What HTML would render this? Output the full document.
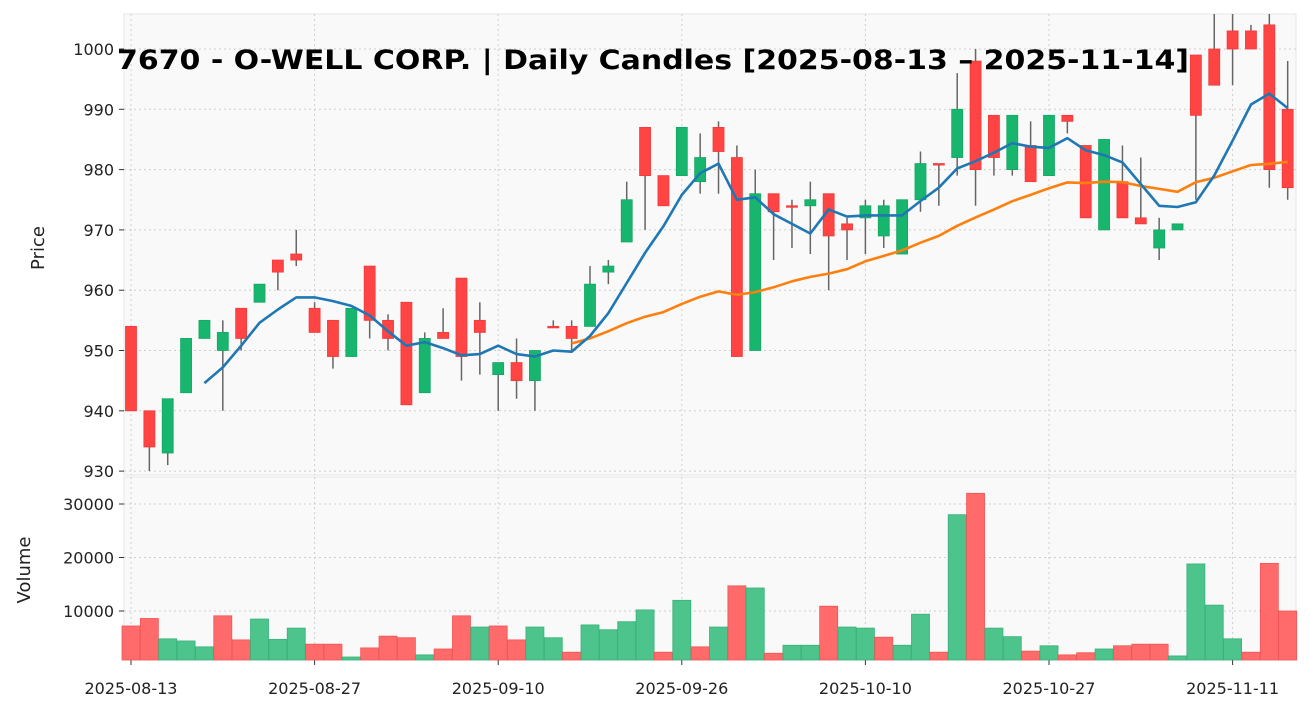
<!DOCTYPE html>
<html><head><meta charset="utf-8"><style>
html,body{margin:0;padding:0;background:#fff;}
svg{display:block;font-family:"DejaVu Sans","Liberation Sans",sans-serif;}
</style></head><body>
<svg id="s" width="1310" height="711" xmlns="http://www.w3.org/2000/svg"></svg>
<script>
const C=[[954,940,954,940],[940,934,940,930],[933,942,942,931],[943,952,952,943],[952,955,955,952],[950,953,955,940],[957,952,957,950],[958,961,961,958],[965,963,965,960],[966,965,970,964],[957,953,958,953],[955,949,955,947],[949,957,957,949],[964,955,964,952],[955,952,956,950],[958,941,958,941],[943,952,953,943],[953,952,957,952],[962,949,962,945],[955,953,958,946],[946,948,948,940],[948,945,952,942],[945,950,950,940],[954,954,955,954],[954,952,955,950],[954,961,964,954],[963,964,965,961],[968,975,978,968],[987,979,987,970],[979,974,979,974],[979,987,987,979],[978,982,986,976],[987,983,988,976],[982,949,984,949],[950,976,980,950],[976,973,976,965],[974,974,975,967],[974,975,978,966],[976,969,976,960],[971,970,972,965],[972,974,975,966],[969,974,975,967],[966,975,975,966],[975,981,983,973],[981,981,981,974],[982,990,996,979],[998,980,1000,974],[989,982,989,979],[980,989,989,979],[984,978,988,978],[979,989,989,979],[989,988,989,986],[984,972,984,972],[970,985,985,970],[978,972,984,972],[972,971,982,971],[967,970,972,965],[970,971,971,970],[999,989,999,975],[1000,994,1006,994],[1003,1000,1006,994],[1003,1000,1004,1000],[1004,980,1006,977],[990,977,998,975]];
const V=[[7200,0],[8600,0],[4800,1],[4400,1],[3300,1],[9100,0],[4600,0],[8500,1],[4700,1],[6800,1],[3800,0],[3800,0],[1400,1],[3100,0],[5300,0],[5000,0],[1800,1],[2900,0],[9100,0],[7000,1],[7200,0],[4600,0],[7000,1],[5000,1],[2300,0],[7400,1],[6500,1],[8000,1],[10200,1],[2300,0],[12000,1],[3300,0],[7000,1],[14700,0],[14300,1],[2100,0],[3600,1],[3600,1],[10900,0],[7000,1],[6800,1],[5100,0],[3600,1],[9400,1],[2300,0],[28000,1],[32000,0],[6800,1],[5200,1],[2500,0],[3500,1],[1800,0],[2200,0],[2900,1],[3500,0],[3800,0],[3800,0],[1600,1],[18800,1],[11100,1],[4800,1],[2300,0],[18900,0],[10000,0]];
const X=i=>131+i*18.36, PY=p=>49+(1000-p)*6.03, VY=v=>664.5-v*107/20000;
let h='<defs><clipPath id="cp"><rect x="124" y="14" width="1172" height="461"/></clipPath></defs>';
h+='<rect x="124" y="14" width="1172" height="461" fill="#f9f9f9" stroke="#e6e6e6"/>';
h+='<rect x="124" y="477" width="1172" height="183" fill="#f9f9f9" stroke="#e6e6e6"/>';
const dates=[[0,'2025-08-13'],[10,'2025-08-27'],[20,'2025-09-10'],[30,'2025-09-26'],[40,'2025-10-10'],[50,'2025-10-27'],[60,'2025-11-11']];
for(const [i,t] of dates){const x=X(i);
 h+=`<line x1="${x}" y1="14" x2="${x}" y2="475" stroke="#cfcfcf" stroke-dasharray="2,3"/><line x1="${x}" y1="477" x2="${x}" y2="660" stroke="#cfcfcf" stroke-dasharray="2,3"/>`;
 h+=`<line x1="${x}" y1="660" x2="${x}" y2="665" stroke="#333"/><text x="${x}" y="694" font-size="16" text-anchor="middle" fill="#222">${t}</text>`;}
for(let p=930;p<=1000;p+=10){const y=PY(p);
 h+=`<line x1="124" y1="${y}" x2="1296" y2="${y}" stroke="#cfcfcf" stroke-dasharray="2,3"/><line x1="119" y1="${y}" x2="124" y2="${y}" stroke="#333"/><text x="114" y="${y+6}" font-size="16" text-anchor="end" fill="#222">${p}</text>`;}
for(const v of [10000,20000,30000]){const y=VY(v);
 h+=`<line x1="124" y1="${y}" x2="1296" y2="${y}" stroke="#cfcfcf" stroke-dasharray="2,3"/><line x1="119" y1="${y}" x2="124" y2="${y}" stroke="#333"/><text x="114" y="${y+6}" font-size="16" text-anchor="end" fill="#222">${v}</text>`;}
V.forEach((d,i)=>{const x=X(i),y=VY(d[0]);h+=`<rect x="${x-9}" y="${y}" width="18" height="${660-y}" fill="${d[1]?'#4cc48c':'#ff6b6b'}" stroke="${d[1]?'#3ab07a':'#f05555'}" stroke-width="0.8"/>`;});
let g='';
C.forEach((d,i)=>{const x=X(i),[o,c,hi,lo]=d;const col=c>o?'#18b56f':'#ff4444';
 g+=`<line x1="${x}" y1="${PY(hi)}" x2="${x}" y2="${PY(lo)}" stroke="#666" stroke-width="1.5"/>`;
 const t=PY(Math.max(o,c)),b=PY(Math.min(o,c));
 g+=`<rect x="${x-5.5}" y="${t}" width="11" height="${Math.max(b-t,1.5)}" fill="${col}" stroke="${c>o?'#14a862':'#f03a3a'}" stroke-width="0.8"/>`;});
function ma(n,col){let pts=[];for(let i=n-1;i<C.length;i++){let s=0;for(let j=i-n+1;j<=i;j++)s+=C[j][1];pts.push(X(i).toFixed(1)+','+PY(s/n).toFixed(1));}
 return `<polyline points="${pts.join(' ')}" fill="none" stroke="${col}" stroke-width="2.6" stroke-linejoin="round"/>`;}
g+=ma(25,'#ff7f0e')+ma(5,'#1f77b4');
h+=`<g clip-path="url(#cp)">${g}</g>`;
h+='<text x="653" y="69" font-size="27" font-weight="bold" text-anchor="middle" fill="#000" textLength="1072" lengthAdjust="spacingAndGlyphs">7670 - O-WELL CORP. | Daily Candles [2025-08-13 – 2025-11-14]</text>';
h+='<text transform="translate(44,248) rotate(-90)" font-size="18" text-anchor="middle" fill="#222">Price</text>';
h+='<text transform="translate(30,570) rotate(-90)" font-size="18" text-anchor="middle" fill="#222">Volume</text>';
document.getElementById('s').innerHTML=h;
</script>
</body></html>
